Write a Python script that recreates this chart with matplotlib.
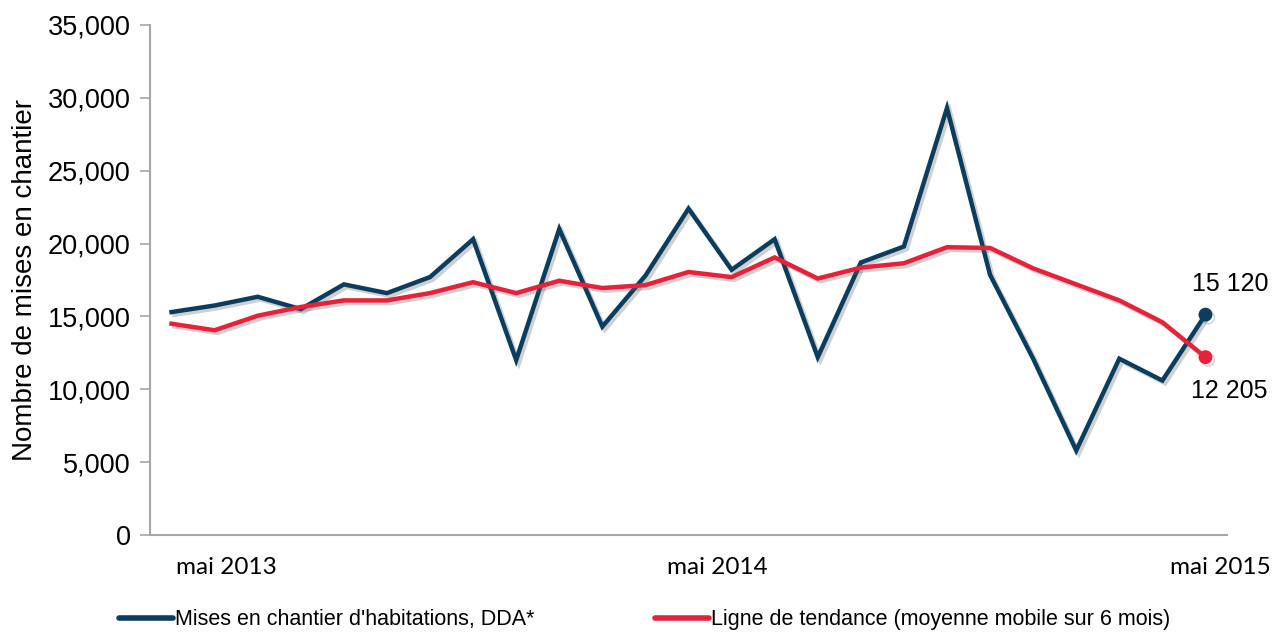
import matplotlib
matplotlib.use("Agg")
import matplotlib.pyplot as plt
import matplotlib.patheffects as pe
from matplotlib.ticker import FuncFormatter
import numpy as np

# Monthly data, mai 2013 .. mai 2015 (25 months)
months = list(range(25))
mises_en_chantier = [15300, 15750, 16350, 15500, 17200, 16600, 17700, 20300, 12000,
                     21000, 14300, 17800, 22400, 18200, 20300, 12200, 18700, 19800,
                     29300, 17850, 12100, 5800, 12100, 10600, 15120]
tendance = [14500, 14050, 15050, 15650, 16100, 16100, 16600, 17350, 16600,
            17450, 16950, 17150, 18050, 17700, 19050, 17600, 18350, 18650,
            19750, 19700, 18300, 17200, 16100, 14600, 12205]

xtick_pos = [1.28, 12.66, 24.35]
xtick_labels = ["mai 2013", "mai 2014", "mai 2015"]
yticks = [0, 5000, 10000, 15000, 20000, 25000, 30000, 35000]

label_dark = "Mises en chantier d'habitations, DDA*"
label_red = "Ligne de tendance (moyenne mobile sur 6 mois)"
ylabel = "Nombre de mises en chantier"
last_dark_label = "15 120"
last_red_label = "12 205"

DARK = "#0b3d5f"
RED = "#e8203a"
GREY = "#a6a6a6"

plt.rcParams['font.family'] = ['Liberation Sans', 'DejaVu Sans']

fig = plt.figure(figsize=(12.78, 6.34), dpi=100)
ax = fig.add_axes([150 / 1278, 99 / 634, 1077 / 1278, 510 / 634])

shadow = [pe.SimpleLineShadow(offset=(2, -2), shadow_color='#666666', alpha=0.3),
          pe.Normal()]

l1, = ax.plot(months, mises_en_chantier, color=DARK, lw=3.2, solid_joinstyle='miter',
              path_effects=shadow, label=label_dark, zorder=3)
l2, = ax.plot(months, tendance, color=RED, lw=3.2, solid_joinstyle='miter',
              path_effects=shadow, label=label_red, zorder=4)

ax.plot(months[-1], mises_en_chantier[-1], 'o', color=DARK, ms=9,
        path_effects=shadow, zorder=5)
ax.plot(months[-1], tendance[-1], 'o', color=RED, ms=9,
        path_effects=shadow, zorder=5)

ax.annotate(last_dark_label, (months[-1], mises_en_chantier[-1]),
            xytext=(25, 31), textcoords='offset pixels', ha='center', va='center',
            fontsize=18, color='black')
ax.annotate(last_red_label, (months[-1], tendance[-1]),
            xytext=(24, -34), textcoords='offset pixels', ha='center', va='center',
            fontsize=18, color='black')

ax.set_xlim(-0.5, 24.5)
ax.set_ylim(0, 35000)
ax.set_yticks(yticks)
ax.yaxis.set_major_formatter(FuncFormatter(lambda v, p: f"{int(v):,}"))
ax.tick_params(axis='y', labelsize=19.5, length=7, width=1.2, color=GREY, pad=7)

ax.set_xticks(xtick_pos)
ax.set_xticklabels(xtick_labels, fontsize=17.5, family=['Lato', 'DejaVu Sans'])
ax.tick_params(axis='x', length=0, pad=16)

for s in ['top', 'right']:
    ax.spines[s].set_visible(False)
for s in ['left', 'bottom']:
    ax.spines[s].set_color(GREY)
    ax.spines[s].set_linewidth(1.5)

ax.set_ylabel(ylabel, fontsize=20)
ax.yaxis.set_label_coords(-112 / 1077, 0.5)

leg = fig.legend(handles=[l1, l2], loc='center', bbox_to_anchor=(645 / 1278, 1 - 620 / 634),
                 ncol=2, frameon=False, fontsize=15.5, handlelength=2.5,
                 handletextpad=0.1, columnspacing=5.6)
for h in leg.legend_handles:
    h.set_path_effects([])
    h.set_linewidth(4)
    h.set_solid_capstyle('round')

fig.savefig("out.png", dpi=100)
